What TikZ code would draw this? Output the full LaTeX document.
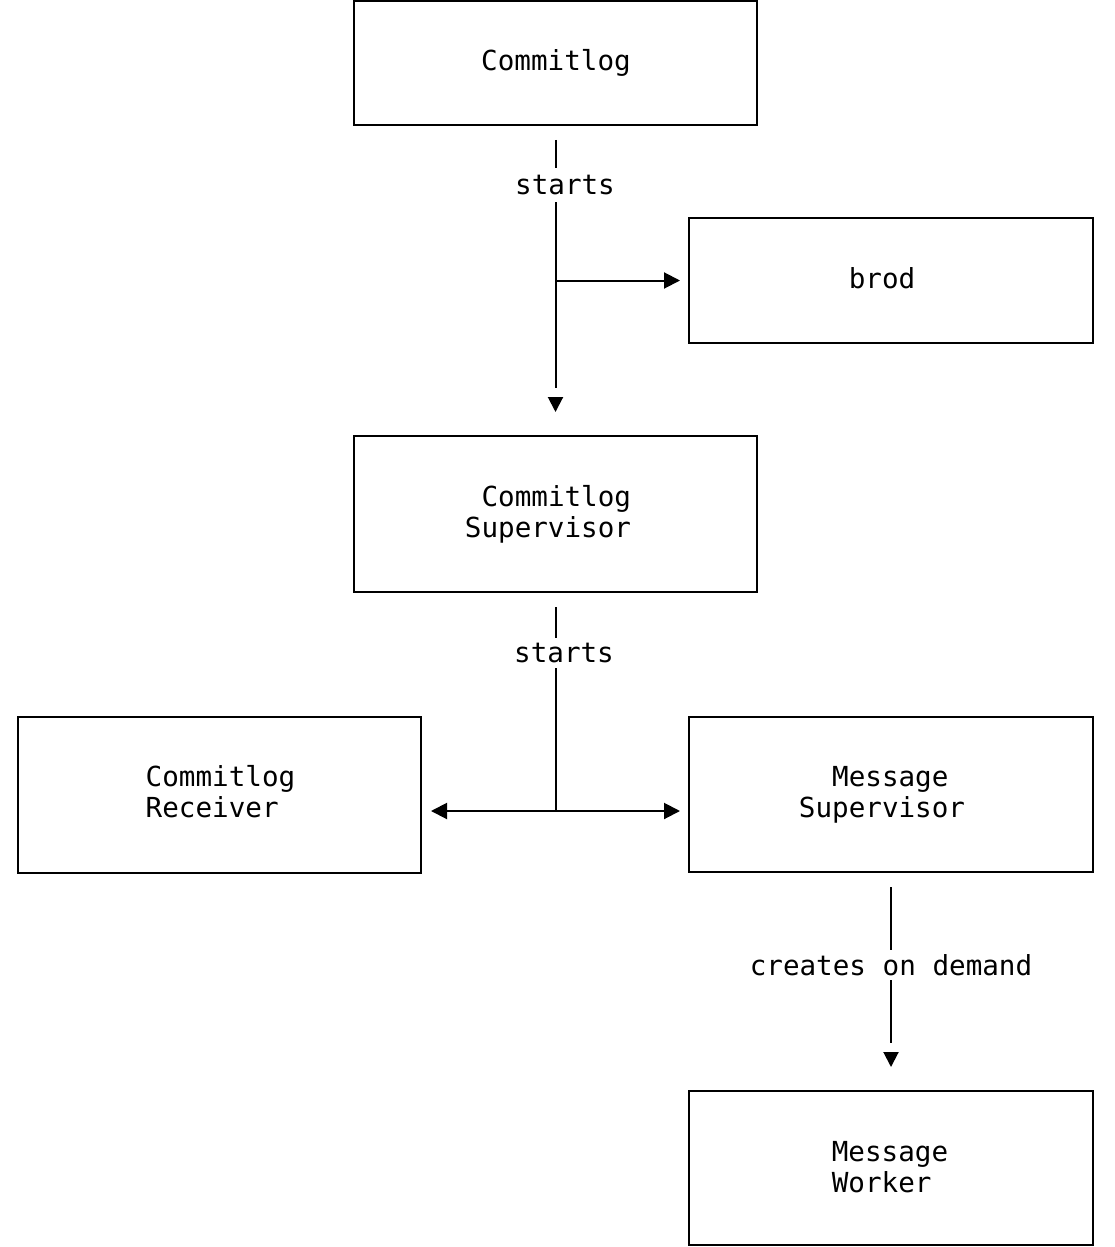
\documentclass[tikz,border=0pt]{standalone}
\usepackage{fontspec}
\newfontfamily\diagmono{DejaVu Sans Mono}
\usetikzlibrary{arrows.meta,calc}
\begin{document}
\begin{tikzpicture}[x=0.5pt,y=-0.5pt,
  box/.style={draw, line width=1pt, inner sep=0pt, minimum width=201.5pt},
  txt/.style={font=\diagmono\fontsize{13.8pt}{15.5pt}\selectfont, inner sep=0pt, align=left},
  lbl/.style={font=\diagmono\fontsize{13.8pt}{15.5pt}\selectfont, fill=white, inner sep=0pt},
  conn/.style={line width=1pt},
  arr/.style={line width=1pt, -{Triangle[length=8pt,width=8pt]}},
  tipmark/.style={line width=1pt, -{Triangle[length=7.5pt,width=7.5pt]}}
]
\useasboundingbox (0,0) rectangle (1114,1247);

% boxes
\node[box, minimum height=62pt]   (cl)    at (555.5,63)   {};
\node[box, minimum height=62.5pt, minimum width=202pt] (brod)  at (891,280.5)  {};
\node[box, minimum height=78pt]   (csup)  at (555.5,514)  {};
\node[box, minimum height=78pt]   (crec)  at (219.5,795)  {};
\node[box, minimum height=77.5pt, minimum width=202pt] (msup)  at (891,794.5)  {};
\node[box, minimum height=77pt, minimum width=202pt]   (mwork) at (891,1168)   {};

% box texts
\node[txt, anchor=base] (tcl)   at (556,71)  {Commitlog};
\node[txt, anchor=base] (tbrod) at (882,288) {brod};
\node[txt] (tcsup)  at (548,514)  {\hphantom{S}Commitlog\\Supervisor};
\node[txt] (tcrec)  at (220.5,792) {Commitlog\\Receiver};
\node[txt] (tmsup)  at (882,795)  {\hphantom{SS}Message\\Supervisor};
\node[txt] (tmwork) at (890,1167) {Message\\Worker};

% connector labels
\node[lbl, minimum height=17pt] (l1) at (565,185) {starts};
\node[lbl, minimum height=15pt] (l2) at (564,653) {starts};
\node[lbl, minimum height=15pt] (l3) at (891,965) {creates on demand};

% Commitlog -> Commitlog Supervisor (and brod)
\draw[conn] ($(cl.south)+(0,14)$) -- (cl.south |- l1.north);
\draw[conn] (cl.south |- l1.south) -- ($(csup.north)+(0,-47)$);
\draw[tipmark] ($(csup.north)+(0,-38)$) -- ($(csup.north)+(0,-23)$);
\draw[arr, shorten >=4pt] (cl.south |- brod.west) -- (brod.west);

% Commitlog Supervisor -> Receiver, Message Supervisor
\coordinate (j2) at ($(csup.south)+(0,218)$);
\draw[conn] ($(csup.south)+(0,14)$) -- (csup.south |- l2.north);
\draw[conn] (csup.south |- l2.south) -- (j2);
\draw[arr, shorten >=4.5pt] (j2) -- (crec.east |- j2);
\draw[arr, shorten >=4pt] (j2) -- (msup.west |- j2);

% Message Supervisor -> Message Worker
\draw[conn] ($(msup.south)+(0,14)$) -- (msup.south |- l3.north);
\draw[conn] (msup.south |- l3.south) -- ($(mwork.north)+(0,-47)$);
\draw[tipmark] ($(mwork.north)+(0,-38)$) -- ($(mwork.north)+(0,-23)$);
\end{tikzpicture}
\end{document}
